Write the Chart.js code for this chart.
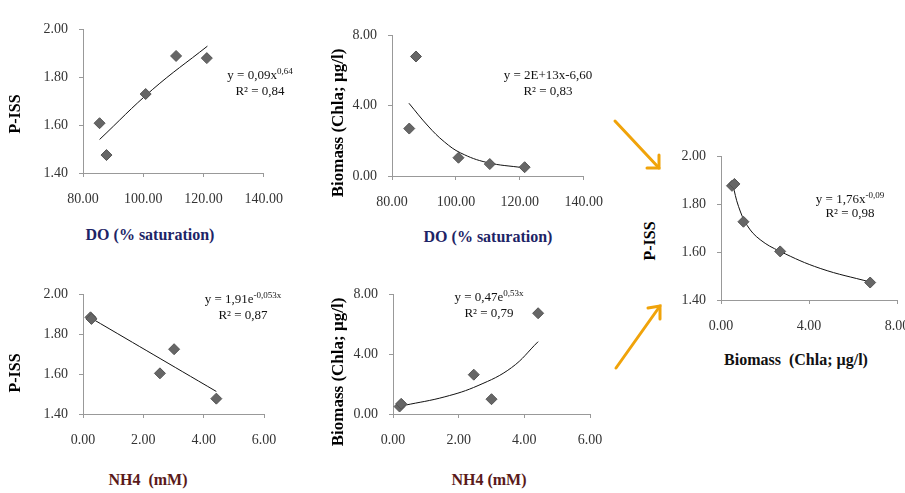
<!DOCTYPE html>
<html>
<head>
<meta charset="utf-8">
<script src="https://cdn.jsdelivr.net/npm/chart.js@4.4.1/dist/chart.umd.min.js"></script>
<style>
  body { margin: 0; background: #fff; }
  #wrap { position: relative; width: 905px; height: 493px; overflow: hidden; font-family: "Liberation Serif", "Times New Roman", serif; }
  canvas { position: absolute; }
  .lbl { position: absolute; white-space: nowrap; transform: translate(-50%, -50%); }
  .xt { font-weight: bold; font-size: 16px; }
  .yt { font-weight: bold; font-size: 16px; transform: translate(-50%, -50%) rotate(-90deg); }
  .eq { font-size: 13px; line-height: 16px; text-align: center; color: #111; }
  .eq sup { font-size: 9px; vertical-align: 5px; line-height: 0; }
</style>
</head>
<body>
<div id="wrap">
  <canvas id="c1"></canvas>
  <canvas id="c2"></canvas>
  <canvas id="c3"></canvas>
  <canvas id="c4"></canvas>
  <canvas id="c5"></canvas>

  <div class="lbl yt" style="left:15px;top:114px">P-ISS</div>
  <div class="lbl yt" style="left:338px;top:123px;font-size:17px">Biomass (Chla; µg/l)</div>
  <div class="lbl yt" style="left:15px;top:373px">P-ISS</div>
  <div class="lbl yt" style="left:338px;top:372px;font-size:17px">Biomass (Chla; µg/l)</div>
  <div class="lbl yt" style="left:650px;top:241px">P-ISS</div>

  <div class="lbl xt" style="left:150px;top:235px;color:#1d2466">DO (% saturation)</div>
  <div class="lbl xt" style="left:488px;top:237px;color:#1d2466">DO (% saturation)</div>
  <div class="lbl xt" style="left:148px;top:480px;color:#5a1a1a">NH4&nbsp; (mM)</div>
  <div class="lbl xt" style="left:489px;top:480px;color:#5a1a1a">NH4 (mM)</div>
  <div class="lbl xt" style="left:796px;top:360px;color:#111">Biomass&nbsp; (Chla; µg/l)</div>

  <div class="lbl eq" style="left:260px;top:83px">y = 0,09x<sup>0,64</sup><br>R² = 0,84</div>
  <div class="lbl eq" style="left:548px;top:83px">y = 2E+13x-6,60<br>R² = 0,83</div>
  <div class="lbl eq" style="left:243px;top:307px">y = 1,91e<sup>-0,053x</sup><br>R² = 0,87</div>
  <div class="lbl eq" style="left:489px;top:305px">y = 0,47e<sup>0,53x</sup><br>R² = 0,79</div>
  <div class="lbl eq" style="left:850px;top:206px;line-height:14px">y = 1,76x<sup>-0,09</sup><br>R² = 0,98</div>

  <svg width="905" height="493" style="position:absolute;left:0;top:0" fill="none" stroke="#f0a30a" stroke-width="3" stroke-linecap="round">
    <line x1="615" y1="121" x2="659" y2="168"/>
    <polyline points="647,168 659,168 659,155"/>
    <line x1="616" y1="368" x2="660" y2="306"/>
    <polyline points="648,308 660,306 660,319"/>
  </svg>
</div>

<script>
// panel 1: DO vs P-ISS
let do1 = [85.5, 87.8, 100.8, 110.9, 121.1];
let piss1 = [1.608, 1.475, 1.73, 1.889, 1.88];
let fitX1 = [85.5, 103, 121.3];
let fitY1 = [1.54, 1.748, 1.93];

// panel 2: DO vs biomass
let do2 = [85.4, 87.5, 100.8, 110.6, 121.5];
let bio2 = [2.70, 6.80, 1.04, 0.68, 0.50];
let fitX2 = [85.3, 91.3, 96.4, 101.5, 109.7, 121];
let fitY2 = [4.14, 2.84, 1.94, 1.31, 0.77, 0.47];

// panel 3: NH4 vs P-ISS
let nh3 = [0.25, 0.28, 2.55, 3.02, 4.42];
let piss3 = [1.885, 1.877, 1.604, 1.725, 1.477];
let fitX3 = [0.28, 4.42];
let fitY3 = [1.88, 1.513];

// panel 4: NH4 vs biomass
let nh4 = [0.2, 0.25, 2.46, 3.0, 4.42];
let bio4 = [0.5, 0.68, 2.63, 0.99, 6.74];
let fitX4 = [0.35, 1.58, 2.59, 3.61, 4.42];
let fitY4 = [0.58, 1.15, 1.9, 3.1, 4.84];

// panel 5: biomass vs P-ISS
let bio5 = [0.5, 0.61, 1.02, 2.69, 6.78];
let piss5 = [1.877, 1.885, 1.727, 1.603, 1.473];
let fitX5 = [0.53, 0.8, 1.2, 1.78, 2.69, 4.51, 6.78];
let fitY5 = [1.884, 1.79, 1.71, 1.652, 1.603, 1.532, 1.475];

const PAD_L = 60, PAD_T = 12, PAD_R = 30, PAD_B = 40;

function makePanel(id, box, xs, ys, fx, fy, xr, yr) {
    let cv = document.getElementById(id);
    let w = box.right - box.left + PAD_L + PAD_R;
    let h = box.bottom - box.top + PAD_T + PAD_B;
    cv.width = w;
    cv.height = h;
    cv.style.left = (box.left - PAD_L) + 'px';
    cv.style.top = (box.top - PAD_T) + 'px';

    let tickFont = { family: 'Liberation Serif', size: 14 };
    let grid = { display: true, drawOnChartArea: false, drawTicks: true, tickLength: 4, color: '#999' };

    return new Chart(cv.getContext('2d'), {
        type: 'scatter',
        data: {
            datasets: [{
                data: xs.map((x, i) => ({ x: x, y: ys[i] })),
                pointStyle: 'rectRot',
                pointRadius: 5.5,
                backgroundColor: '#666',
                borderColor: '#555',
                borderWidth: 1
            }, {
                type: 'line',
                data: fx.map((x, i) => ({ x: x, y: fy[i] })),
                borderColor: '#111',
                borderWidth: 1,
                pointRadius: 0,
                fill: false,
                tension: 0.4
            }]
        },
        options: {
            responsive: false,
            animation: false,
            layout: { padding: { left: 0, top: PAD_T, right: PAD_R, bottom: 0 } },
            plugins: { legend: { display: false }, tooltip: { enabled: false } },
            scales: {
                x: {
                    type: 'linear', min: xr[0], max: xr[1],
                    grid: grid,
                    border: { display: true, color: '#999' },
                    ticks: { stepSize: xr[2], autoSkip: false, padding: 14, color: '#333', font: tickFont,
                        callback: v => v.toFixed(2) },
                    afterFit: s => { s.height = PAD_B; }
                },
                y: {
                    type: 'linear', min: yr[0], max: yr[1],
                    grid: grid,
                    border: { display: true, color: '#999' },
                    ticks: { stepSize: yr[2], autoSkip: false, padding: 11, color: '#333', font: tickFont,
                        callback: v => v.toFixed(2) },
                    afterFit: s => { s.width = PAD_L; }
                }
            }
        }
    });
}

makePanel('c1', { left: 83, right: 267, top: 22, bottom: 173 }, do1, piss1, fitX1, fitY1, [80, 140, 20], [1.4, 2.0, 0.2]);
makePanel('c2', { left: 392, right: 587, top: 28, bottom: 176 }, do2, bio2, fitX2, fitY2, [80, 140, 20], [0, 8, 4]);
makePanel('c3', { left: 83, right: 264, top: 287, bottom: 414 }, nh3, piss3, fitX3, fitY3, [0, 6, 2], [1.4, 2.0, 0.2]);
makePanel('c4', { left: 393, right: 590, top: 287, bottom: 414 }, nh4, bio4, fitX4, fitY4, [0, 6, 2], [0, 8, 4]);
makePanel('c5', { left: 721, right: 897, top: 149, bottom: 300 }, bio5, piss5, fitX5, fitY5, [0, 8, 4], [1.4, 2.0, 0.2]);
</script>
</body>
</html>
